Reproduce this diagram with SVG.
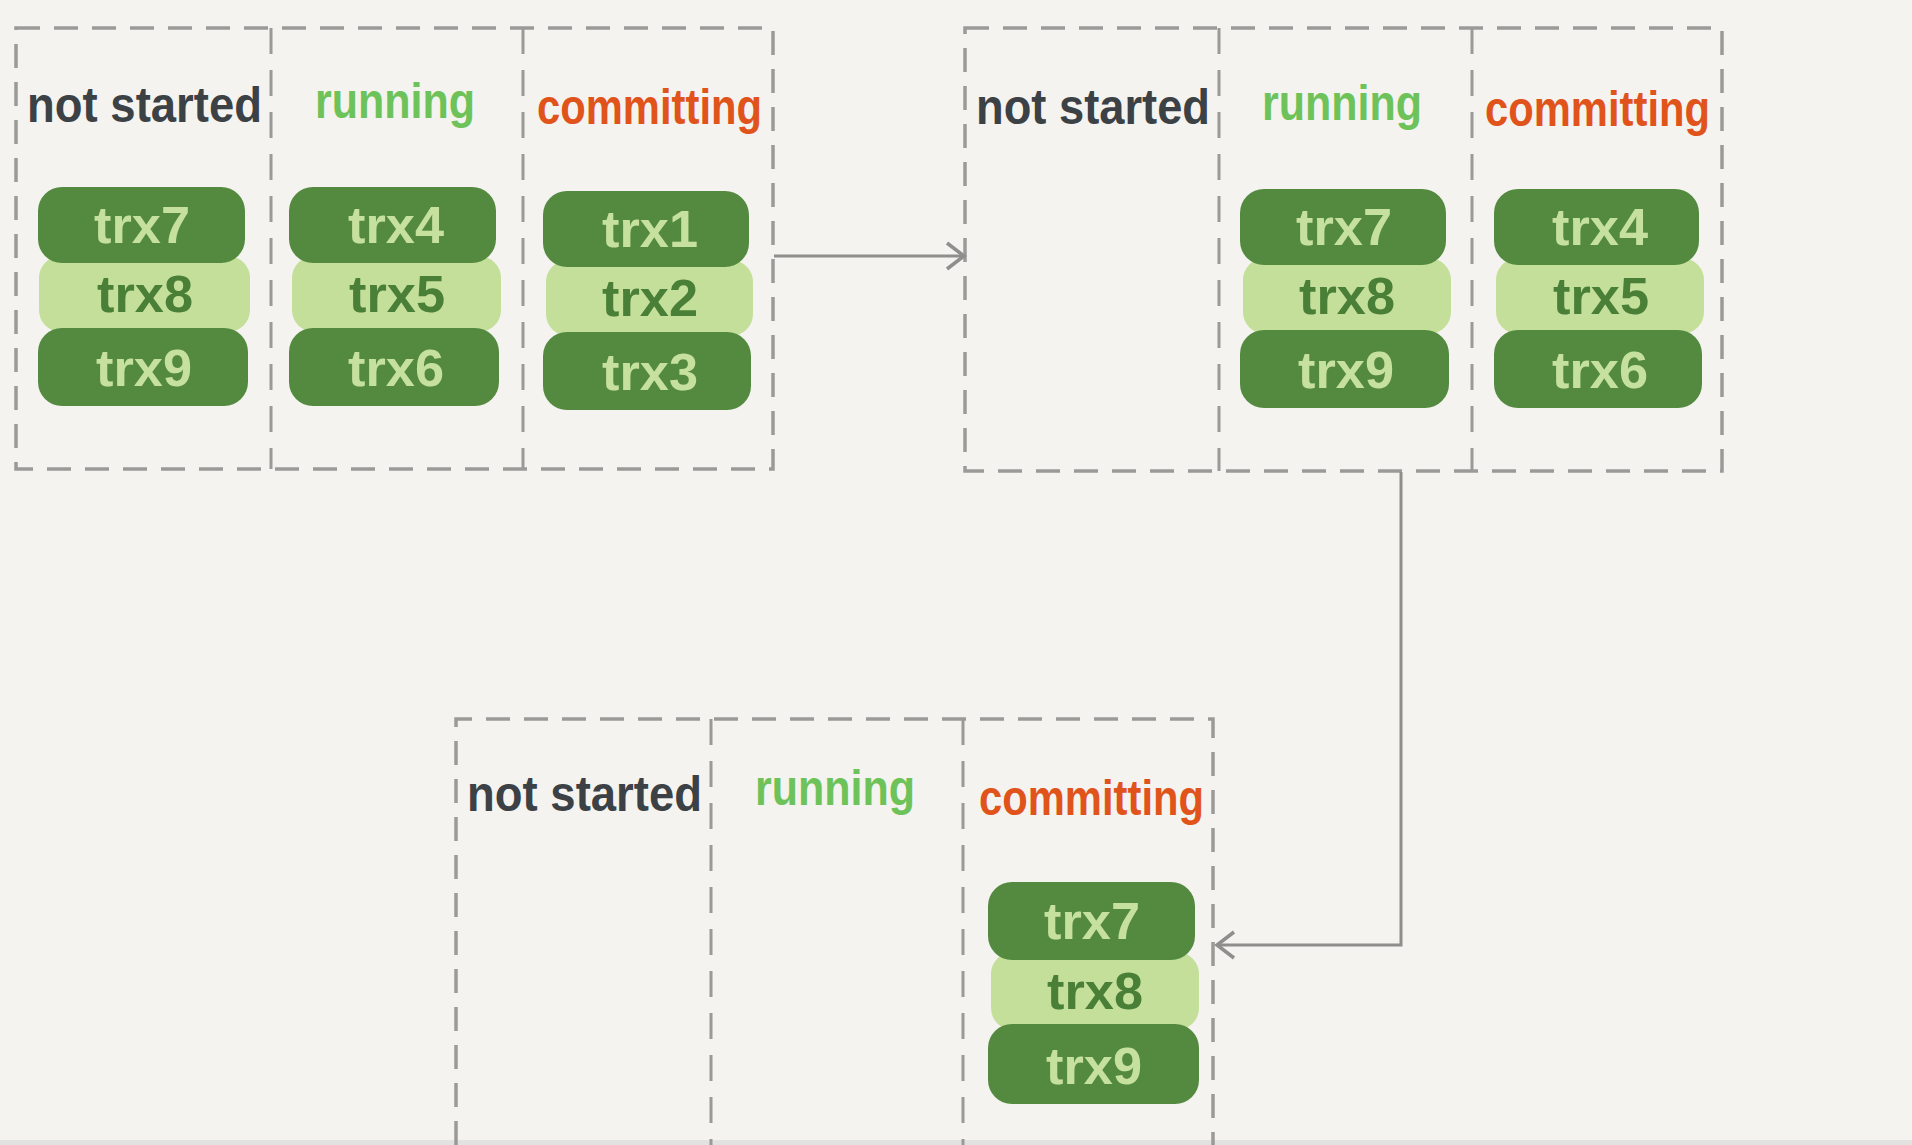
<svg xmlns="http://www.w3.org/2000/svg" width="1912" height="1145" viewBox="0 0 1912 1145">
<defs>
<style>
.bg{fill:#f4f3ef}
.frame{fill:none;stroke:#9a9a98;stroke-width:3.5;stroke-dasharray:24 14}
.div{fill:none;stroke:#9a9a98;stroke-width:3;stroke-dasharray:26 16}
.conn{fill:none;stroke:#8e8e8c;stroke-width:3}
.lbl{font-family:"Liberation Sans","DejaVu Sans",sans-serif;font-size:50px;font-weight:bold}
.ns{fill:#3b4145}
.run{fill:#6dc35a}
.com{fill:#e0531b}
.dk{fill:#538a3f}
.lt{fill:#c4df9a}
.tdk{font-family:"Liberation Sans","DejaVu Sans",sans-serif;font-size:52px;font-weight:bold;fill:#c6e09e;text-anchor:middle}
.tlt{font-family:"Liberation Sans","DejaVu Sans",sans-serif;font-size:52px;font-weight:bold;fill:#4a7f37;text-anchor:middle}
</style>
<marker id="arr" viewBox="0 0 24 32" refX="21" refY="16" markerWidth="24" markerHeight="32" markerUnits="userSpaceOnUse" orient="auto">
<path d="M4 3 L21 16 L4 29" fill="none" stroke="#8e8e8c" stroke-width="3.5"/>
</marker>
</defs>
<rect class="bg" x="0" y="0" width="1912" height="1145"/>
<rect x="0" y="1140" width="1912" height="5" fill="#e2e2e0"/>

<g id="state1">
<rect class="frame" x="16" y="28" width="757" height="441"/>
<line class="div" x1="271" y1="28" x2="271" y2="469"/>
<line class="div" x1="523" y1="28" x2="523" y2="469"/>
<text class="lbl ns" x="27" y="122" textLength="235" lengthAdjust="spacingAndGlyphs">not started</text>
<text class="lbl run" x="315" y="118" textLength="160" lengthAdjust="spacingAndGlyphs">running</text>
<text class="lbl com" x="537" y="124" textLength="225" lengthAdjust="spacingAndGlyphs">committing</text>
</g>
<g id="s1-col1">
<rect class="lt" x="39" y="256" width="211" height="76" rx="22"/>
<rect class="dk" x="38" y="187" width="207" height="76" rx="24"/>
<rect class="dk" x="38" y="328" width="210" height="78" rx="24"/>
<text class="tdk" x="142" y="243" textLength="96" lengthAdjust="spacingAndGlyphs">trx7</text>
<text class="tlt" x="145" y="312" textLength="96" lengthAdjust="spacingAndGlyphs">trx8</text>
<text class="tdk" x="144" y="386" textLength="96" lengthAdjust="spacingAndGlyphs">trx9</text>
</g>
<g id="s1-col2">
<rect class="lt" x="292" y="256" width="209" height="76" rx="22"/>
<rect class="dk" x="289" y="187" width="207" height="76" rx="24"/>
<rect class="dk" x="289" y="328" width="210" height="78" rx="24"/>
<text class="tdk" x="396" y="243" textLength="96" lengthAdjust="spacingAndGlyphs">trx4</text>
<text class="tlt" x="397" y="312" textLength="96" lengthAdjust="spacingAndGlyphs">trx5</text>
<text class="tdk" x="396" y="386" textLength="96" lengthAdjust="spacingAndGlyphs">trx6</text>
</g>
<g id="s1-col3">
<rect class="lt" x="546" y="260" width="207" height="76" rx="22"/>
<rect class="dk" x="543" y="191" width="206" height="76" rx="24"/>
<rect class="dk" x="543" y="332" width="208" height="78" rx="24"/>
<text class="tdk" x="650" y="247" textLength="96" lengthAdjust="spacingAndGlyphs">trx1</text>
<text class="tlt" x="650" y="316" textLength="96" lengthAdjust="spacingAndGlyphs">trx2</text>
<text class="tdk" x="650" y="390" textLength="96" lengthAdjust="spacingAndGlyphs">trx3</text>
</g>

<g id="state2">
<rect class="frame" x="965" y="28" width="757" height="443"/>
<line class="div" x1="1219" y1="28" x2="1219" y2="471"/>
<line class="div" x1="1472" y1="28" x2="1472" y2="471"/>
<text class="lbl ns" x="976" y="124" textLength="234" lengthAdjust="spacingAndGlyphs">not started</text>
<text class="lbl run" x="1262" y="120" textLength="160" lengthAdjust="spacingAndGlyphs">running</text>
<text class="lbl com" x="1485" y="126" textLength="225" lengthAdjust="spacingAndGlyphs">committing</text>
</g>
<g id="s2-col2">
<rect class="lt" x="1243" y="258" width="208" height="76" rx="22"/>
<rect class="dk" x="1240" y="189" width="206" height="76" rx="24"/>
<rect class="dk" x="1240" y="330" width="209" height="78" rx="24"/>
<text class="tdk" x="1344" y="245" textLength="96" lengthAdjust="spacingAndGlyphs">trx7</text>
<text class="tlt" x="1347" y="314" textLength="96" lengthAdjust="spacingAndGlyphs">trx8</text>
<text class="tdk" x="1346" y="388" textLength="96" lengthAdjust="spacingAndGlyphs">trx9</text>
</g>
<g id="s2-col3">
<rect class="lt" x="1496" y="258" width="208" height="76" rx="22"/>
<rect class="dk" x="1494" y="189" width="205" height="76" rx="24"/>
<rect class="dk" x="1494" y="330" width="208" height="78" rx="24"/>
<text class="tdk" x="1600" y="245" textLength="96" lengthAdjust="spacingAndGlyphs">trx4</text>
<text class="tlt" x="1601" y="314" textLength="96" lengthAdjust="spacingAndGlyphs">trx5</text>
<text class="tdk" x="1600" y="388" textLength="96" lengthAdjust="spacingAndGlyphs">trx6</text>
</g>

<g id="state3">
<path class="frame" d="M456 1145 V719 H1213 V1145"/>
<line class="div" x1="711" y1="719" x2="711" y2="1145"/>
<line class="div" x1="963" y1="719" x2="963" y2="1145"/>
<text class="lbl ns" x="467" y="811" textLength="235" lengthAdjust="spacingAndGlyphs">not started</text>
<text class="lbl run" x="755" y="805" textLength="160" lengthAdjust="spacingAndGlyphs">running</text>
<text class="lbl com" x="979" y="815" textLength="225" lengthAdjust="spacingAndGlyphs">committing</text>
</g>
<g id="s3-col3">
<rect class="lt" x="991" y="952" width="208" height="78" rx="22"/>
<rect class="dk" x="988" y="882" width="207" height="78" rx="24"/>
<rect class="dk" x="988" y="1024" width="211" height="80" rx="24"/>
<text class="tdk" x="1092" y="939" textLength="96" lengthAdjust="spacingAndGlyphs">trx7</text>
<text class="tlt" x="1095" y="1009" textLength="96" lengthAdjust="spacingAndGlyphs">trx8</text>
<text class="tdk" x="1094" y="1084" textLength="96" lengthAdjust="spacingAndGlyphs">trx9</text>
</g>

<g id="connectors">
<path class="conn" d="M774 256 H964" marker-end="url(#arr)"/>
<path class="conn" d="M1401 472 V945 H1217" marker-end="url(#arr)"/>
</g>
</svg>
